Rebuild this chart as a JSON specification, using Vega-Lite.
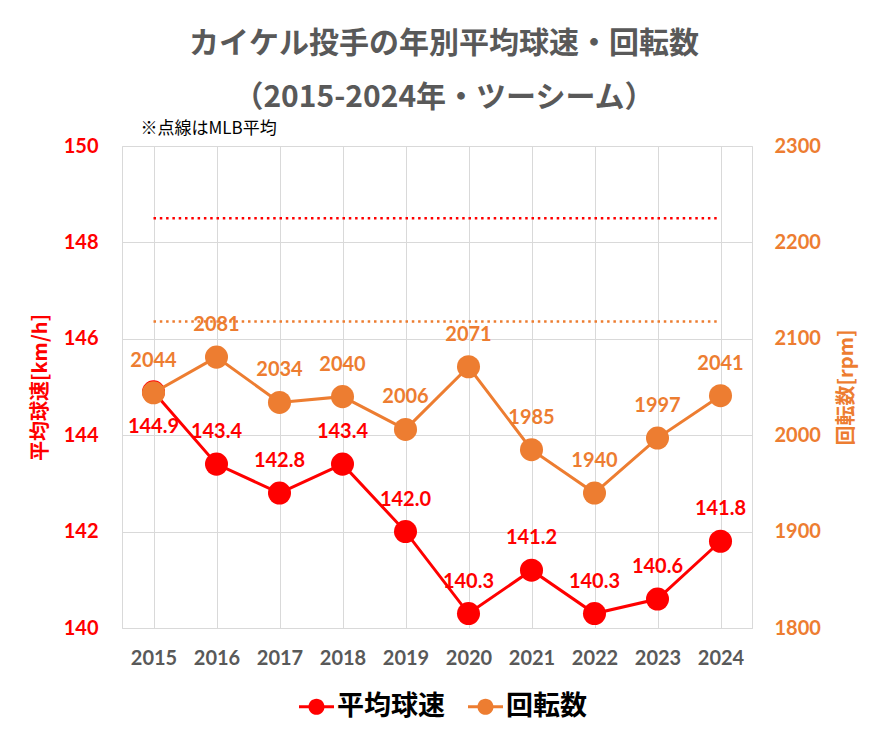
{
  "$schema": "https://vega.github.io/schema/vega-lite/v6.json",
  "width": 630,
  "height": 482,
  "autosize": {"type": "none"},
  "padding": {"left": 122, "top": 146, "right": 135, "bottom": 114},
  "background": "white",
  "config": {"view": {"stroke": "#D9D9D9", "strokeWidth": 1}},
  "title": {
    "text": ["カイケル投手の年別平均球速・回転数", "（2015-2024年・ツーシーム）"],
    "font": "Noto Sans CJK JP",
    "fontSize": 30,
    "fontWeight": "bold",
    "color": "#595959",
    "lineHeight": 54,
    "anchor": "middle",
    "frame": "group",
    "dx": 7,
    "offset": 6
  },
  "datasets": {
    "pitch": [
      {"year": "2015", "speed": 144.9, "spin": 2044},
      {"year": "2016", "speed": 143.4, "spin": 2081},
      {"year": "2017", "speed": 142.8, "spin": 2034},
      {"year": "2018", "speed": 143.4, "spin": 2040},
      {"year": "2019", "speed": 142.0, "spin": 2006},
      {"year": "2020", "speed": 140.3, "spin": 2071},
      {"year": "2021", "speed": 141.2, "spin": 1985},
      {"year": "2022", "speed": 140.3, "spin": 1940},
      {"year": "2023", "speed": 140.6, "spin": 1997},
      {"year": "2024", "speed": 141.8, "spin": 2041}
    ],
    "mlb": [
      {"year": "2015", "mlb_speed": 148.5, "mlb_spin": 2118},
      {"year": "2024", "mlb_speed": 148.5, "mlb_spin": 2118}
    ]
  },
  "data": {"name": "pitch"},
  "layer": [
    {
      "encoding": {
        "x": {
          "field": "year", "type": "ordinal",
          "scale": {"paddingInner": 0, "paddingOuter": 0},
          "axis": {
            "orient": "bottom", "title": null, "labelAngle": 0,
            "labelFont": "Lato", "labelFontSize": 20, "labelFontWeight": "bold", "labelColor": "#595959",
            "labelPadding": 20, "ticks": false, "tickSize": 0,
            "domain": true, "domainColor": "#D9D9D9",
            "grid": true, "gridColor": "#D9D9D9", "bandPosition": 0
          }
        },
        "y": {
          "type": "quantitative",
          "scale": {"domain": [140, 150], "nice": false, "zero": false},
          "axis": {
            "orient": "left", "values": [140, 142, 144, 146, 148, 150],
            "title": "平均球速[km/h]", "titleFont": "Noto Sans CJK JP", "titleFontSize": 20, "titleFontWeight": "bold",
            "titleColor": "#FF0000", "titleAngle": -90, "titleX": -82, "titleY": 241, "titleAlign": "center", "titleBaseline": "middle",
            "labelFont": "Lato", "labelFontSize": 20, "labelFontWeight": "bold", "labelColor": "#FF0000",
            "labelPadding": 24, "ticks": false, "tickSize": 0, "domain": false,
            "grid": true, "gridColor": "#D9D9D9"
          }
        }
      },
      "layer": [
        {
          "data": {"name": "mlb"},
          "mark": {"type": "line", "color": "#FF0000", "strokeWidth": 2.5, "strokeDash": [2.5, 3.8]},
          "encoding": {"y": {"field": "mlb_speed"}}
        },
        {
          "mark": {"type": "line", "color": "#FF0000", "strokeWidth": 3},
          "encoding": {"y": {"field": "speed"}}
        },
        {
          "mark": {"type": "point", "filled": true, "size": 531, "opacity": 1},
          "encoding": {
            "y": {"field": "speed"},
            "color": {
              "datum": "平均球速",
              "scale": {"domain": ["平均球速", "回転数"], "range": ["#FF0000", "#ED7D31"]},
              "legend": {
                "orient": "none", "legendX": 177, "legendY": 543, "direction": "horizontal", "title": null,
                "symbolType": "M-1,-0.086H1V0.086H-1ZM-0.46,0A0.46,0.46,0,1,1,0.46,0A0.46,0.46,0,1,1,-0.46,0Z",
                "symbolSize": 1225, "symbolStrokeWidth": 0,
                "labelFont": "Noto Sans CJK JP", "labelFontSize": 27, "labelFontWeight": "bold",
                "labelOffset": 3, "columnPadding": 23, "labelLimit": 300,
                "encode": {
                  "symbols": {"update": {
                    "shape": {"value": "M-1,-0.086H1V0.086H-1ZM-0.46,0A0.46,0.46,0,1,1,0.46,0A0.46,0.46,0,1,1,-0.46,0Z"},
                    "size": {"value": 1225},
                    "fill": {"scale": "color", "field": "value"},
                    "opacity": {"value": 1}
                  }},
                  "labels": {"update": {"fill": {"scale": "color", "field": "value"}}}
                }
              }
            }
          }
        },
        {
          "transform": [{"filter": "datum.year != '2015'"}],
          "mark": {"type": "text", "font": "Lato", "fontSize": 20, "fontWeight": "bold", "color": "#FF0000", "dy": -32, "baseline": "middle"},
          "encoding": {"y": {"field": "speed"}, "text": {"field": "speed", "format": ".1f"}}
        },
        {
          "transform": [{"filter": "datum.year == '2015'"}],
          "mark": {"type": "text", "font": "Lato", "fontSize": 20, "fontWeight": "bold", "color": "#FF0000", "dy": 35, "baseline": "middle"},
          "encoding": {"y": {"field": "speed"}, "text": {"field": "speed", "format": ".1f"}}
        }
      ]
    },
    {
      "encoding": {
        "x": {
          "field": "year", "type": "ordinal",
          "axis": {
            "orient": "top", "labels": false, "ticks": false, "domain": false, "grid": false,
            "title": "※点線はMLB平均", "titleFont": "Noto Sans CJK JP", "titleFontSize": 17, "titleFontWeight": "normal",
            "titleColor": "#000000", "titleAnchor": "start", "titleAlign": "left", "titleBaseline": "middle",
            "titleX": 18, "titleY": -18
          }
        },
        "y": {
          "type": "quantitative",
          "scale": {"domain": [1800, 2300], "nice": false, "zero": false},
          "axis": {
            "orient": "right", "values": [1800, 1900, 2000, 2100, 2200, 2300], "format": "d",
            "title": "回転数[rpm]", "titleFont": "Noto Sans CJK JP", "titleFontSize": 20, "titleFontWeight": "bold",
            "titleColor": "#ED7D31", "titleAngle": -90, "titleX": 94, "titleY": 241, "titleAlign": "center", "titleBaseline": "middle",
            "labelFont": "Lato", "labelFontSize": 20, "labelFontWeight": "bold", "labelColor": "#ED7D31",
            "labelPadding": 22, "ticks": false, "tickSize": 0, "domain": false, "grid": false
          }
        }
      },
      "layer": [
        {
          "data": {"name": "mlb"},
          "mark": {"type": "line", "color": "#ED7D31", "strokeWidth": 2.5, "strokeDash": [2.5, 3.8]},
          "encoding": {"y": {"field": "mlb_spin"}}
        },
        {
          "mark": {"type": "line", "color": "#ED7D31", "strokeWidth": 3},
          "encoding": {"y": {"field": "spin"}}
        },
        {
          "mark": {"type": "point", "filled": true, "size": 531, "opacity": 1},
          "encoding": {"y": {"field": "spin"}, "color": {"datum": "回転数"}}
        },
        {
          "mark": {"type": "text", "font": "Lato", "fontSize": 20, "fontWeight": "bold", "color": "#ED7D31", "dy": -32, "baseline": "middle"},
          "encoding": {"y": {"field": "spin"}, "text": {"field": "spin", "format": "d"}}
        }
      ]
    }
  ],
  "resolve": {"scale": {"y": "independent"}, "axis": {"x": "independent"}}
}
